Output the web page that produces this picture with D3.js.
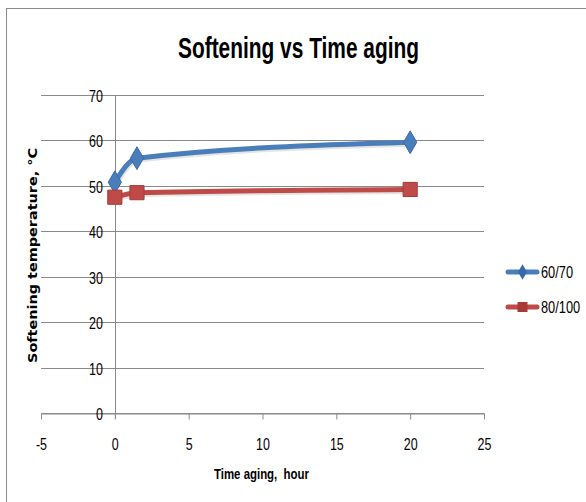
<!DOCTYPE html>
<html>
<head>
<meta charset="utf-8">
<script src="https://cdn.jsdelivr.net/npm/d3@7"></script>
<style>
  body { margin: 0; background: #fff; }
  svg { display: block; }
</style>
</head>
<body>
<svg id="chart" width="586" height="502"></svg>
<script>
const seriesNames = ['60/70', '80/100'];
const hours = [0, 1.5, 20];
const soft6070 = [50.8, 56.1, 59.6];
const soft80100 = [47.5, 48.5, 49.2];
const xTicks = [-5, 0, 5, 10, 15, 20, 25];
const yTicks = [0, 10, 20, 30, 40, 50, 60, 70];

const sans = '"Liberation Sans", Arial, sans-serif';
const squeeze = 0.78; // reference font is a narrow one

const svg = d3.select('#chart');

// outer chart frame
svg.append('rect')
  .attr('x', 6.5).attr('y', 8.5)
  .attr('width', 620).attr('height', 520)
  .attr('fill', 'none')
  .attr('stroke', '#8c8c8c')
  .attr('stroke-width', 1);

const xScale = d3.scaleLinear().domain([-5, 25]).range([41, 484]);
const yScale = d3.scaleLinear().domain([0, 70]).range([413, 95]);

// gridlines
svg.append('g')
  .selectAll('line')
  .data(yTicks)
  .enter()
  .append('line')
  .attr('x1', xScale(-5))
  .attr('x2', xScale(25))
  .attr('y1', d => Math.round(yScale(d)) + 0.5)
  .attr('y2', d => Math.round(yScale(d)) + 0.5)
  .attr('stroke', '#8a8a8a')
  .attr('stroke-width', 1);

// vertical axis at x = 0
svg.append('line')
  .attr('x1', Math.round(xScale(0)) + 0.5)
  .attr('x2', Math.round(xScale(0)) + 0.5)
  .attr('y1', yScale(70))
  .attr('y2', yScale(0) + 5)
  .attr('stroke', '#8a8a8a');

// x axis
const xAxis = svg.append('g')
  .attr('transform', `translate(0,${Math.round(yScale(0)) + 0.5})`)
  .call(d3.axisBottom(xScale).tickValues(xTicks).tickSize(6).tickSizeOuter(0).tickFormat(d => String(d)));
xAxis.select('.domain').attr('stroke', '#8a8a8a');
xAxis.selectAll('.tick line').attr('stroke', '#8a8a8a');
xAxis.selectAll('.tick text')
  .attr('y', null).attr('dy', null)
  .attr('transform', `translate(0,36) scale(${squeeze},1)`)
  .style('font-family', sans)
  .style('font-size', '16px')
  .attr('fill', '#000');

// y tick labels
svg.append('g')
  .selectAll('text')
  .data(yTicks)
  .enter()
  .append('text')
  .attr('transform', d => `translate(${xScale(0) - 12},${yScale(d) + 7}) scale(${squeeze},1)`)
  .attr('text-anchor', 'end')
  .style('font-family', sans)
  .style('font-size', '16px')
  .text(d => d);

// title
svg.append('text')
  .attr('x', 178)
  .attr('y', 58)
  .attr('textLength', 241)
  .attr('lengthAdjust', 'spacingAndGlyphs')
  .style('font-family', sans)
  .style('font-weight', 'bold')
  .style('font-size', '30px')
  .text('Softening vs Time aging');

// axis titles
svg.append('text')
  .attr('x', 214)
  .attr('y', 479)
  .attr('textLength', 95)
  .attr('lengthAdjust', 'spacingAndGlyphs')
  .style('font-family', sans)
  .style('font-weight', 'bold')
  .style('font-size', '15.5px')
  .style('white-space', 'pre')
  .text('Time aging,  hour');

svg.append('text')
  .attr('transform', 'translate(37,363) rotate(-90)')
  .attr('textLength', 215)
  .attr('lengthAdjust', 'spacingAndGlyphs')
  .style('font-family', '"DejaVu Sans", sans-serif')
  .style('font-weight', 'bold')
  .style('font-size', '12.5px')
  .text('Softening temperature, °C');

const series = [
  { name: seriesNames[0], values: soft6070, color: '#4a7ebb', dark: '#3a6aa6', shape: d3.symbolDiamond },
  { name: seriesNames[1], values: soft80100, color: '#be4b48', dark: '#a83a37', shape: d3.symbolSquare }
];

const line = d3.line()
  .x(d => xScale(d[0]))
  .y(d => yScale(d[1]))
  .curve(d3.curveMonotoneX);

series.forEach(s => {
  const pts = hours.map((h, i) => [h, s.values[i]]);
  // soft shadow
  svg.append('path')
    .datum(pts)
    .attr('d', line)
    .attr('transform', 'translate(1,2)')
    .attr('fill', 'none')
    .attr('stroke', 'rgba(0,0,0,0.1)')
    .attr('stroke-width', 5);
  svg.append('path')
    .datum(pts)
    .attr('d', line)
    .attr('fill', 'none')
    .attr('stroke', s.color)
    .attr('stroke-width', 5)
    .attr('stroke-linecap', 'round');
  svg.append('g')
    .selectAll('path')
    .data(pts)
    .enter()
    .append('path')
    .attr('transform', d => `translate(${xScale(d[0])},${yScale(d[1])})`)
    .attr('d', d3.symbol().type(s.shape).size(s.shape === d3.symbolSquare ? 200 : 150))
    .attr('fill', s.color)
    .attr('stroke', s.dark)
    .attr('stroke-width', 1);
});

// legend
const legend = svg.append('g');
series.forEach((s, i) => {
  const y = 272 + i * 35;
  legend.append('line')
    .attr('x1', 508).attr('x2', 537)
    .attr('y1', y).attr('y2', y)
    .attr('stroke', s.color)
    .attr('stroke-width', 5)
    .attr('stroke-linecap', 'round');
  legend.append('path')
    .attr('transform', `translate(522.5,${y})`)
    .attr('d', d3.symbol().type(s.shape).size(s.shape === d3.symbolSquare ? 100 : 70))
    .attr('fill', s.dark);
  legend.append('text')
    .attr('transform', `translate(541,${y + 6}) scale(0.8,1)`)
    .style('font-family', sans)
    .style('font-size', '16px')
    .text(s.name);
});
</script>
</body>
</html>
